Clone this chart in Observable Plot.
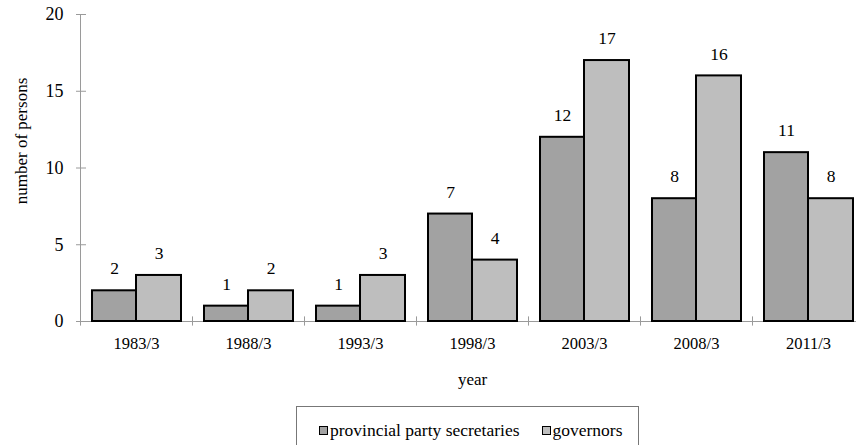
<!DOCTYPE html>
<html>
<head>
<meta charset="utf-8">
<script src="https://cdn.jsdelivr.net/npm/d3@7"></script>
<script src="https://cdn.jsdelivr.net/npm/@observablehq/plot@0.6"></script>
<style>
  html, body { margin: 0; padding: 0; background: #fff; overflow: hidden; }
  #wrap { position: relative; width: 856px; height: 445px; font-family: "Liberation Serif", "Times New Roman", serif; }
  #chart svg { display: block; }
  #chart svg, #chart svg text { font-family: "Liberation Serif", "Times New Roman", serif !important; }
  #legend {
    position: absolute; left: 296px; top: 406px; width: 343px; height: 60px;
    border: 1px solid #777; box-sizing: border-box; background: #fff;
    padding: 14px 0 0 22px; font-size: 17.5px; line-height: 19px; color: #000; white-space: nowrap;
  }
  .item { display: inline-block; }
  .item + .item { margin-left: 22px; }
  .sw { display: inline-block; width: 7px; height: 7px; border: 1.5px solid #000; margin-right: 2px; vertical-align: 1px; }
</style>
</head>
<body>
<div id="wrap">
  <div id="chart"></div>
  <div id="legend"></div>
</div>
<script>
const years = ["1983/3", "1988/3", "1993/3", "1998/3", "2003/3", "2008/3", "2011/3"];
const secretaries = [2, 1, 1, 7, 12, 8, 11];
const governors = [3, 2, 3, 4, 17, 16, 8];
const seriesNames = ["provincial party secretaries", "governors"];
const seriesColors = ["#a2a2a2", "#bebebe"];
const yTicks = [0, 5, 10, 15, 20];
const xTitle = "year";
const yTitle = "number of persons";

const secData = years.map((year, i) => ({year, series: seriesNames[0], value: secretaries[i]}));
const govData = years.map((year, i) => ({year, series: seriesNames[1], value: governors[i]}));

const axisColor = "#9a9a9a";
const serif = '"Liberation Serif", "Times New Roman", serif';

const chart = Plot.plot({
  width: 856,
  height: 445,
  marginTop: 14,
  marginBottom: 124,
  marginLeft: 80,
  marginRight: 0,
  style: {fontFamily: serif, fontSize: "16px", color: "#000", background: "#fff"},
  x: {type: "band", domain: years, range: [80, 864], padding: 0, round: false},
  y: {domain: [0, 20]},
  marks: [
    // axis lines
    Plot.ruleY([0], {stroke: axisColor, strokeWidth: 1}),
    Plot.ruleX([years[0]], {x: d => d, dx: -56, y1: -0.3, y2: 20, stroke: axisColor, strokeWidth: 1}),
    // category boundary ticks
    Plot.ruleX(years.slice(1), {x: d => d, dx: -56, y1: -0.3, y2: 0.3, stroke: axisColor, strokeWidth: 1}),
    // y ticks (crossing)
    Plot.axisY({ticks: yTicks, tickSize: 10, dx: 6, tickFormat: () => "", stroke: axisColor, label: null}),
    // y labels
    Plot.axisY({ticks: yTicks, tickSize: 0, tickPadding: 17, fontSize: 18, fontFamily: serif, label: null}),
    // x labels
    Plot.axisX({tickSize: 0, tickPadding: 16, fontSize: 16.5, fontFamily: serif, label: null}),
    // bars
    Plot.barY(secData, {x: "year", y: "value", fill: seriesColors[0], stroke: "#000", strokeWidth: 2, insetLeft: 12, insetRight: 56}),
    Plot.barY(govData, {x: "year", y: "value", fill: seriesColors[1], stroke: "#000", strokeWidth: 2, insetLeft: 56, insetRight: 11}),
    // value labels
    Plot.text(secData, {x: "year", y: "value", text: d => String(d.value), dx: -22, dy: -22, fontSize: 17.5, fontFamily: serif, fill: "#000"}),
    Plot.text(govData, {x: "year", y: "value", text: d => String(d.value), dx: 22.5, dy: -22, fontSize: 17.5, fontFamily: serif, fill: "#000"}),
    // titles
    Plot.text([yTitle], {frameAnchor: "left", text: d => d, rotate: -90, textAnchor: "middle", dx: -59, dy: -27, fontSize: 17, fontFamily: serif, fill: "#000"}),
    Plot.text([xTitle], {frameAnchor: "bottom", text: d => d, textAnchor: "middle", dx: 4, dy: 63, fontSize: 17, fontFamily: serif, fill: "#000"})
  ]
});
document.getElementById("chart").appendChild(chart);

const legend = document.getElementById("legend");
seriesNames.forEach((name, i) => {
  const item = document.createElement("span");
  item.className = "item";
  const sw = document.createElement("span");
  sw.className = "sw";
  sw.style.background = seriesColors[i];
  item.appendChild(sw);
  item.appendChild(document.createTextNode(name));
  legend.appendChild(item);
});
</script>
</body>
</html>
